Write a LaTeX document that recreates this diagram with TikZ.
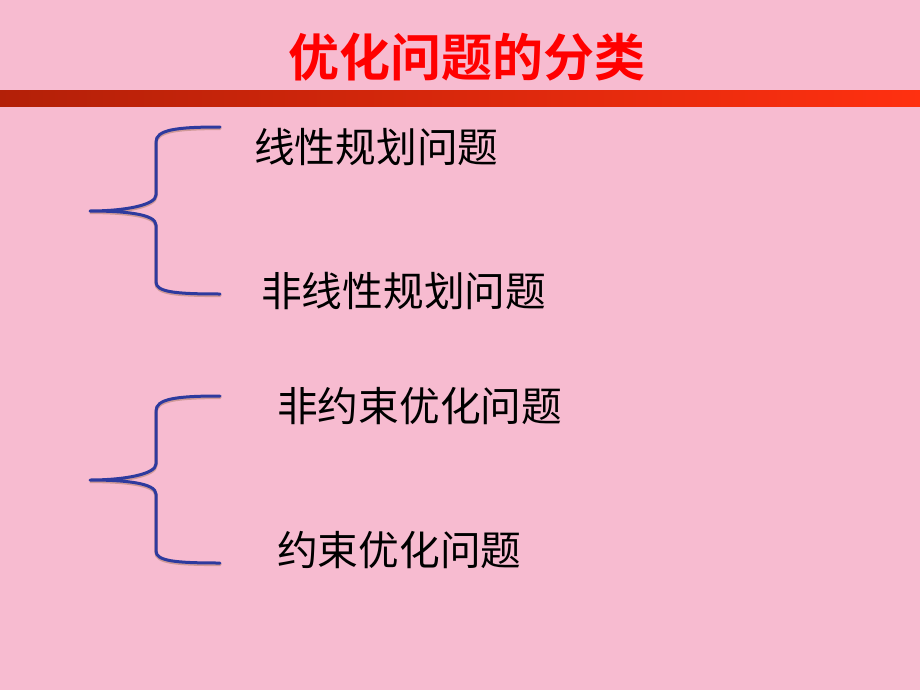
\documentclass[tikz,border=0pt]{standalone}
\usepackage{fontspec}
\setmainfont{Noto Sans CJK SC}
\newfontfamily\cjk{Noto Sans CJK SC}
\newfontfamily\cjkbold{Noto Sans CJK SC Bold}
\definecolor{bgpink}{HTML}{F7BBD0}
\definecolor{barL}{HTML}{B32008}
\definecolor{barR}{HTML}{FF3010}
\definecolor{bracecol}{HTML}{2E3A9E}
\definecolor{titlered}{HTML}{FF0000}
\tikzset{
  item/.style={anchor=west, inner sep=0pt, font=\cjk\fontsize{40.7}{44}\selectfont, text=black},
  bracestyle/.style={draw=bracecol, line width=3pt, line cap=round, line join=round},
  braceshadow/.style={draw=brown!70!black, opacity=0.35, line width=3.2pt, line cap=round},
}
\begin{document}
\begin{tikzpicture}[x=1pt,y=-1pt]
\fill[bgpink] (0,0) rectangle (920,690);
\useasboundingbox (0,0) rectangle (920,690);
\shade[left color=barL, right color=barR] (0,91) rectangle (920,107);
\node[inner sep=0pt, font=\cjkbold\fontsize{51}{55}\selectfont, text=titlered] (title) at (467,57) {优化问题的分类};
\foreach \dy/\sty in {1.5/braceshadow,0/bracestyle}{
  \path[\sty] (220,127+\dy) .. controls (175,127+\dy) and (156,130+\dy) .. (156,142+\dy) -- (156,195+\dy)
    .. controls (156,205+\dy) and (125,211+\dy) .. (90,211+\dy)
    .. controls (125,211+\dy) and (156,214+\dy) .. (156,225+\dy) -- (156,282+\dy)
    .. controls (156,292+\dy) and (175,294+\dy) .. (220,294+\dy);
  \path[\sty] (220,396+\dy) .. controls (175,396+\dy) and (156,399+\dy) .. (156,411+\dy) -- (156,464+\dy)
    .. controls (156,474+\dy) and (125,480+\dy) .. (90,480+\dy)
    .. controls (125,480+\dy) and (156,483+\dy) .. (156,494+\dy) -- (156,551+\dy)
    .. controls (156,561+\dy) and (175,563+\dy) .. (220,563+\dy);
}
\node[item] (a) at (254,147) {线性规划问题};
\node[item] (b) at (261,291) {非线性规划问题};
\node[item] (c) at (277,406) {非约束优化问题};
\node[item] (d) at (277,550) {约束优化问题};
\end{tikzpicture}
\end{document}
